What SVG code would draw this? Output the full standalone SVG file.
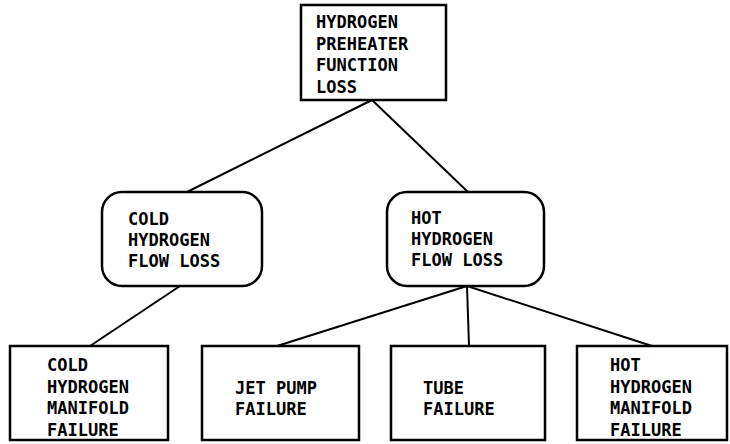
<svg xmlns="http://www.w3.org/2000/svg" width="730" height="444" viewBox="0 0 730 444">
<style>
.box{fill:#fff;stroke:#000;stroke-width:2.5}
.t{font-family:"DejaVu Sans Mono","Liberation Mono",monospace;font-size:17px;font-weight:bold;fill:#000}
.c{stroke:#000;stroke-width:2;fill:none}
</style>
<rect width="730" height="444" fill="#fff"/>
<g id="connectors">
<line class="c" x1="372" y1="100" x2="187" y2="192"/>
<line class="c" x1="372" y1="100" x2="468" y2="192"/>
<line class="c" x1="180" y1="286" x2="90" y2="346"/>
<line class="c" x1="467" y1="286" x2="277" y2="346"/>
<line class="c" x1="467" y1="286" x2="469" y2="346"/>
<line class="c" x1="467" y1="286" x2="652" y2="346"/>
</g>
<g id="n_top">
<rect class="box" x="301" y="5" width="145" height="95"/>
<text class="t" x="316" y="28">HYDROGEN</text>
<text class="t" x="316" y="49.5">PREHEATER</text>
<text class="t" x="316" y="71">FUNCTION</text>
<text class="t" x="316" y="92.5">LOSS</text>
</g>
<g id="n_cold">
<rect class="box" x="102" y="192" width="160" height="94" rx="20"/>
<text class="t" x="128" y="225">COLD</text>
<text class="t" x="128" y="246">HYDROGEN</text>
<text class="t" x="128" y="267">FLOW LOSS</text>
</g>
<g id="n_hot">
<rect class="box" x="387" y="192" width="157" height="94" rx="20"/>
<text class="t" x="411" y="224">HOT</text>
<text class="t" x="411" y="245">HYDROGEN</text>
<text class="t" x="411" y="266">FLOW LOSS</text>
</g>
<g id="n_cold_manifold">
<rect class="box" x="10" y="346" width="158" height="94"/>
<text class="t" x="47" y="371">COLD</text>
<text class="t" x="47" y="392.5">HYDROGEN</text>
<text class="t" x="47" y="414">MANIFOLD</text>
<text class="t" x="47" y="435.5">FAILURE</text>
</g>
<g id="n_jet_pump">
<rect class="box" x="202" y="346" width="157" height="94"/>
<text class="t" x="235" y="394">JET PUMP</text>
<text class="t" x="235" y="415">FAILURE</text>
</g>
<g id="n_tube">
<rect class="box" x="391" y="346" width="154" height="94"/>
<text class="t" x="423" y="394">TUBE</text>
<text class="t" x="423" y="415">FAILURE</text>
</g>
<g id="n_hot_manifold">
<rect class="box" x="577" y="346" width="150" height="94"/>
<text class="t" x="610" y="371">HOT</text>
<text class="t" x="610" y="392.5">HYDROGEN</text>
<text class="t" x="610" y="414">MANIFOLD</text>
<text class="t" x="610" y="435.5">FAILURE</text>
</g>
</svg>
